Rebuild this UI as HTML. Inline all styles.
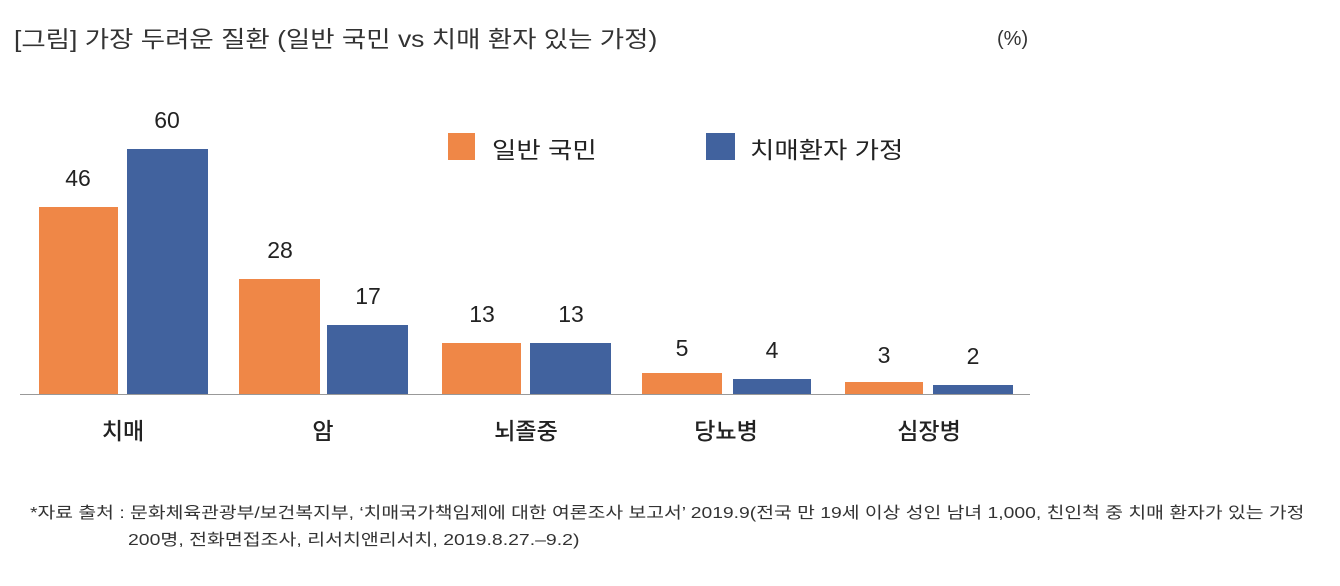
<!DOCTYPE html>
<html><head><meta charset="utf-8"><style>
body{margin:0;width:1340px;height:586px;background:#fff;position:relative;overflow:hidden;font-family:"Liberation Sans","Noto Sans CJK KR",sans-serif;color:#222}
.a{position:absolute;white-space:nowrap;transform-origin:0 0}
.b{position:absolute}
.o{background:#EF8747}.u{background:#41629E}
.v{position:absolute;font-size:23px;width:90px;text-align:center;color:#222}
.c{position:absolute;font-size:23px;width:200px;text-align:center;top:412px;font-weight:500}
</style></head><body>
<div class="a" style="left:14px;top:20px;font-size:23px;color:#333;transform:scaleX(1.15)">[그림] 가장 두려운 질환 (일반 국민 vs 치매 환자 있는 가정)</div>
<div class="a" style="left:997px;top:28px;font-size:20px;color:#333">(%)</div>

<div class="b o" style="left:448px;top:133px;width:27px;height:27px"></div>
<div class="a" style="left:492px;top:131px;font-size:23px;transform:scaleX(1.15)">일반 국민</div>
<div class="b u" style="left:706px;top:133px;width:29px;height:27px"></div>
<div class="a" style="left:750px;top:131px;font-size:23px;transform:scaleX(1.15)">치매환자 가정</div>

<div class="b o" style="left:39px;top:207px;width:79px;height:188px"></div>
<div class="b u" style="left:127px;top:149px;width:81px;height:246px"></div>
<div class="b o" style="left:239px;top:279px;width:81px;height:116px"></div>
<div class="b u" style="left:327px;top:325px;width:81px;height:70px"></div>
<div class="b o" style="left:442px;top:343px;width:79px;height:52px"></div>
<div class="b u" style="left:530px;top:343px;width:81px;height:52px"></div>
<div class="b o" style="left:642px;top:373px;width:80px;height:22px"></div>
<div class="b u" style="left:733px;top:379px;width:78px;height:16px"></div>
<div class="b o" style="left:845px;top:382px;width:78px;height:13px"></div>
<div class="b u" style="left:933px;top:385px;width:80px;height:10px"></div>
<div class="b" style="left:20px;top:394px;width:1010px;height:1px;background:#999"></div>

<div class="v" style="left:33px;top:165px">46</div>
<div class="v" style="left:122px;top:107px">60</div>
<div class="v" style="left:235px;top:237px">28</div>
<div class="v" style="left:323px;top:283px">17</div>
<div class="v" style="left:437px;top:301px">13</div>
<div class="v" style="left:526px;top:301px">13</div>
<div class="v" style="left:637px;top:335px">5</div>
<div class="v" style="left:727px;top:337px">4</div>
<div class="v" style="left:839px;top:342px">3</div>
<div class="v" style="left:928px;top:343px">2</div>

<div class="c" style="left:23px">치매</div>
<div class="c" style="left:223px">암</div>
<div class="c" style="left:426px">뇌졸중</div>
<div class="c" style="left:626px">당뇨병</div>
<div class="c" style="left:829px">심장병</div>

<div class="a" style="left:30px;top:499px;font-size:16px;color:#333;transform:scaleX(1.207)">*자료 출처 : 문화체육관광부/보건복지부, ‘치매국가책임제에 대한 여론조사 보고서’ 2019.9(전국 만 19세 이상 성인 남녀 1,000, 친인척 중 치매 환자가 있는 가정</div>
<div class="a" style="left:128px;top:526px;font-size:16px;color:#333;transform:scaleX(1.215)">200명, 전화면접조사, 리서치앤리서치, 2019.8.27.–9.2)</div>
</body></html>
